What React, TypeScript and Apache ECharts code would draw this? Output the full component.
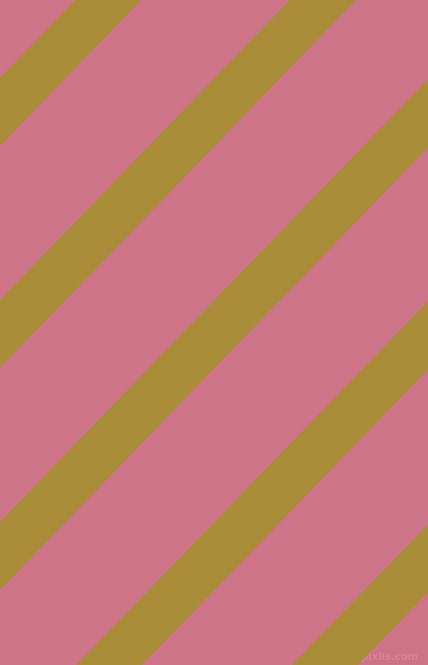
import { useRef, useEffect } from 'react';
import * as echarts from 'echarts';

// upper edge of each stripe where it meets the left border (px from top)
const stripeOffsets = [78, 300, 522, 744, 967];
const stripeThickness = 68;
const slope = 1.034;

const W = 428;
const H = 665;

const App: React.FC = () => {
    const chartRef = useRef<HTMLDivElement>(null);

    useEffect(() => {
        if (!chartRef.current) return;
        const chart = echarts.init(chartRef.current, null, { renderer: 'svg' });

        const option: any = {
            animation: false,
            backgroundColor: '#CE7489',
            grid: { left: 0, right: 0, top: 0, bottom: 0 },
            xAxis: { type: 'value', min: 0, max: W, show: false },
            yAxis: { type: 'value', min: 0, max: H, inverse: true, show: false },
            series: [
                {
                    type: 'custom',
                    clip: true,
                    data: stripeOffsets.map((c) => [c]),
                    renderItem: (params: any, api: any) => {
                        const c = api.value(0);
                        const pts = [
                            [0, c],
                            [W, c - slope * W],
                            [W, c + stripeThickness - slope * W],
                            [0, c + stripeThickness],
                        ].map((p) => api.coord(p));
                        return {
                            type: 'polygon',
                            shape: { points: pts },
                            style: { fill: '#A98D38' },
                        };
                    },
                },
            ],
            graphic: [
                {
                    type: 'text',
                    right: 10,
                    bottom: 4,
                    style: {
                        text: 'pixlis.com',
                        fill: 'rgba(255,255,255,0.12)',
                        font: 'bold 10px "DejaVu Sans"',
                    },
                },
            ],
        };

        chart.setOption(option);
        return () => {
            chart.dispose();
        };
    }, []);

    return (
        <div
            ref={chartRef}
            style={{ position: 'absolute', left: 0, top: 0, width: W + 'px', height: H + 'px' }}
        />
    );
};

export default App;
